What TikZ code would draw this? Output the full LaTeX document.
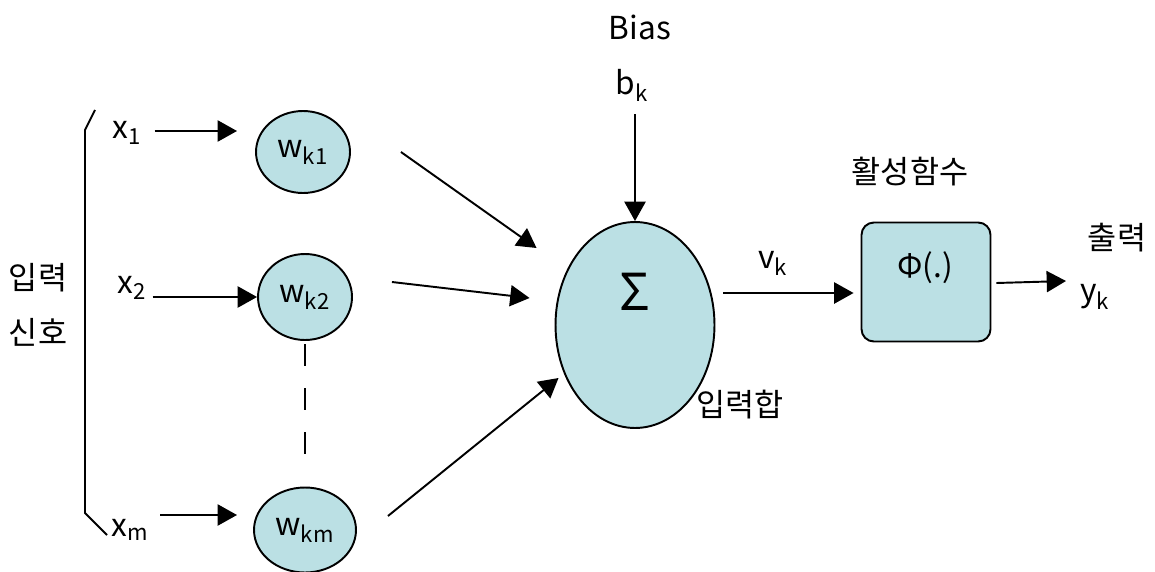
\documentclass[tikz,border=0pt]{standalone}
\usepackage{fontspec}
\setmainfont{Noto Sans CJK KR}
\usetikzlibrary{arrows.meta, shapes.geometric}
\definecolor{cellfill}{RGB}{187,224,228}
\tikzset{
  cell/.style={ellipse, draw, line width=1.1pt, fill=cellfill, inner sep=0pt},
  arr/.style={-{Triangle[length=11pt,width=12pt]}, line width=1.1pt},
}

\begin{document}
\begin{tikzpicture}[x=0.02cm, y=-0.02cm, font=\fontsize{18}{21}\selectfont]
  \useasboundingbox (0,0) rectangle (1155,571);
  \draw[line width=1.1pt] (95,110) -- (85,130) -- (85,513) -- (107,535);
  \node (in1) at (38,278) {입력};
  \node (in2) at (38,332) {신호};
  \node (x1) at (127,133) {x\textsubscript{1}};
  \node (x2) at (132,288) {x\textsubscript{2}};
  \node (xm) at (130,530) {x\textsubscript{m}};
  \node[cell, minimum width=1.88cm, minimum height=1.64cm] (wk1) at (303,152) {w\textsubscript{k1}};
  \node[cell, minimum width=1.88cm, minimum height=1.72cm] (wk2) at (305,297) {w\textsubscript{k2}};
  \node[cell, minimum width=2.04cm, minimum height=1.70cm] (wkm) at (305,530) {w\textsubscript{km}};
  \coordinate (x1end) at (237,131);
  \draw[arr, shorten <=4pt] (x1.east |- x1end) -- (x1end);
  \draw[arr] (x2.east |- wk2.west) -- (wk2.west);
  \coordinate (xmend) at (237,515);
  \draw[arr, shorten <=3pt] (xm.east |- xmend) -- (xmend);
  \draw[line width=1.1pt, dash pattern=on 12.5pt off 12.5pt, shorten <=2pt, shorten >=18pt] (wk2.south) -- (wkm.north);
  \node[cell, minimum width=3.18cm, minimum height=4.12cm] (sum) at (635,325) {};
  \node[font=\fontsize{29}{32}\selectfont] (sigma) at (635,292) {Σ};
  \node (bias) at (640,27) {Bias};
  \node (bk) at (632,85) {b\textsubscript{k}};
  \draw[arr, shorten <=4pt] (sum.north |- bk.south) -- (sum.north);
  \draw[arr] ([shift={(50,0)}]wk1.east) -- ([shift={(-18,-77)}]sum.west);
  \draw[arr] ([shift={(39,-15)}]wk2.east) -- ([shift={(-25,-27)}]sum.west);
  \draw[arr] ([shift={(31,-14)}]wkm.east) -- ([shift={(4,53)}]sum.west);
  \node (sumlbl) at (740,405) {입력합};
  \node[draw, line width=1.1pt, fill=cellfill, rounded corners=7pt, minimum width=2.58cm, minimum height=2.38cm] (phi) at (926,282) {};
  \node (phitxt) at (925,268) {Φ(.)};
  \node (act) at (910,172) {활성함수};
  \node (vk) at (773,263) {v\textsubscript{k}};
  \draw[arr] ([shift={(8,-32)}]sum.east) -- ([shift={(-7,11)}]phi.west);
  \node (out) at (1117,238) {출력};
  \node (yk) at (1095,297) {y\textsubscript{k}};
  \draw[arr] ([shift={(5,1)}]phi.east) -- ([shift={(-8,-16)}]yk.west);
\end{tikzpicture}
\end{document}
